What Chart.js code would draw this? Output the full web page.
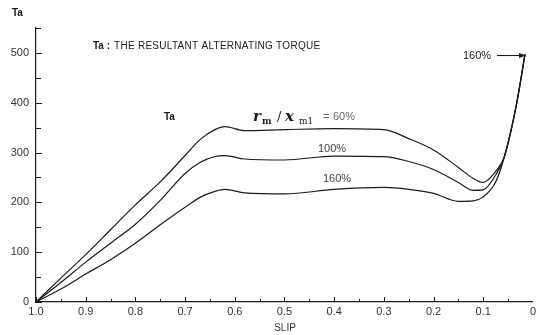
<!DOCTYPE html>
<html>
<head>
<meta charset="utf-8">
<script src="https://cdn.jsdelivr.net/npm/chart.js@4.4.1/dist/chart.umd.min.js"></script>
<style>
html,body{margin:0;padding:0;background:#fff;}
#wrap{width:539px;height:335px;position:relative;}
</style>
</head>
<body>
<div id="wrap"><canvas id="c" width="539" height="335"></canvas></div>
<script>
// slip values (x axis, reversed: 1.0 at left, 0 at right)
const slip = [1.0, 0.95, 0.9, 0.85, 0.8, 0.75, 0.7, 0.67, 0.64, 0.62, 0.58, 0.5, 0.4, 0.3, 0.25, 0.2, 0.15, 0.12, 0.1, 0.075, 0.058, 0.034, 0.016];
// Ta for r_m/x_m1 = 60%
const ta60  = [0, 48, 95, 145, 195, 241, 294, 326, 346, 352, 344, 346, 348, 346, 328, 305, 270, 248, 240, 262, 290, 392, 497];
// Ta for r_m/x_m1 = 100%
const ta100 = [0, 39, 80, 118, 156, 204, 258, 280, 292, 294, 287, 285, 293, 292, 282, 266, 240, 224, 225, 255, 290, 392, 497];
// Ta for r_m/x_m1 = 160%
const ta160 = [0, 26, 56, 85, 118, 155, 190, 210, 222, 226, 219, 217, 226, 230, 226, 218, 202, 203, 211, 241, 290, 392, 497];
const yTicks = [0, 100, 200, 300, 400, 500];
const xTicks = [1.0, 0.9, 0.8, 0.7, 0.6, 0.5, 0.4, 0.3, 0.2, 0.1, 0];

function pts(ys){ return slip.map((s,i)=>({x:s, y:ys[i]})); }

const ink = '#1a1a1a';
const mkDs = (label, ys) => ({
  label, data: pts(ys), borderColor: ink, borderWidth: 1.2,
  pointRadius: 0, fill: false, cubicInterpolationMode: 'monotone'
});

const tickPlugin = {
  id: 'inwardTicks',
  afterDraw(chart){
    const ctx = chart.ctx, x = chart.scales.x, y = chart.scales.y;
    ctx.save();
    ctx.strokeStyle = ink; ctx.lineWidth = 1;
    for (let v = 0; v <= 550; v += 50) {
      const py = Math.round(y.getPixelForValue(v)) + 0.5;
      const len = (v % 100 === 0) ? 6 : 5;
      ctx.beginPath(); ctx.moveTo(x.left, py); ctx.lineTo(x.left + len, py); ctx.stroke();
    }
    for (let k = 1; k <= 20; k++) {
      const v = k * 0.05;
      const px = Math.round(x.getPixelForValue(v)) + 0.5;
      const len = (k % 2 === 0) ? 5 : 3;
      ctx.beginPath(); ctx.moveTo(px, y.bottom); ctx.lineTo(px, y.bottom - len); ctx.stroke();
    }
    ctx.restore();
  }
};

const textPlugin = {
  id: 'annot',
  afterDraw(chart){
    const ctx = chart.ctx, xs = chart.scales.x;
    ctx.save();
    ctx.fillStyle = ink; ctx.strokeStyle = ink;
    ctx.textBaseline = 'middle'; ctx.textAlign = 'left';
    // axis title Ta
    ctx.font = 'bold 10px "Liberation Sans"';
    ctx.fillText('Ta', 12, 13);
    // title
    ctx.fillText('Ta :', 93, 46);
    ctx.font = '10px "Liberation Sans"';
    const t = 'THE RESULTANT ALTERNATING TORQUE';
    const w0 = ctx.measureText(t).width;
    const ls = (206 - w0) / (t.length - 1);
    ctx.letterSpacing = ls.toFixed(2) + 'px';
    ctx.fillText(t, 114, 46);
    ctx.letterSpacing = '0px';
    // curve label Ta
    ctx.font = 'bold 10px "Liberation Sans"';
    ctx.fillText('Ta', 164, 117);
    // r_m / x_m1 = 60%
    const yb = 121;
    ctx.textBaseline = 'alphabetic';
    ctx.font = 'bold italic 15px "DejaVu Serif"';
    ctx.fillText('r', 253, yb);
    ctx.font = 'bold 9px "DejaVu Serif"';
    ctx.fillText('m', 262, yb + 3);
    ctx.font = '13px "DejaVu Serif"';
    ctx.fillText('/', 277, yb);
    ctx.font = 'bold italic 15px "DejaVu Serif"';
    ctx.fillText('x', 285, yb);
    ctx.font = '9px "DejaVu Serif"';
    ctx.fillText('m1', 299, yb + 3);
    ctx.fillStyle = '#666';
    ctx.font = '11px "Liberation Sans"';
    ctx.fillText('=', 323, yb - 1);
    ctx.fillText('60%', 333, yb - 1);
    ctx.fillStyle = ink;
    ctx.textBaseline = 'middle';
    ctx.font = '11px "Liberation Sans"';
    ctx.fillStyle = '#444';
    ctx.fillText('100%', 318, 149);
    ctx.fillText('160%', 323, 179);
    ctx.fillStyle = ink;
    ctx.fillText('160%', 463, 56);
    // arrow to the end of the curve
    const ex = xs.getPixelForValue(slip[slip.length-1]);
    const ey = 55.5;
    ctx.lineWidth = 1.1;
    ctx.beginPath(); ctx.moveTo(497, ey); ctx.lineTo(ex - 1, ey); ctx.stroke();
    ctx.beginPath(); ctx.moveTo(ex + 1, ey); ctx.lineTo(ex - 6, ey - 2.5); ctx.lineTo(ex - 6, ey + 2.5); ctx.closePath(); ctx.fill();
    // x title
    ctx.font = '10px "Liberation Sans"';
    ctx.fillStyle = '#333';
    ctx.textAlign = 'center';
    ctx.fillText('SLIP', 285, 328);
    ctx.restore();
  }
};

new Chart(document.getElementById('c'), {
  type: 'line',
  data: { datasets: [mkDs('60%', ta60), mkDs('100%', ta100), mkDs('160%', ta160)] },
  options: {
    responsive: false, animation: false, devicePixelRatio: 1,
    layout: { padding: { left: 0, right: 2, top: 28, bottom: 0 } },
    plugins: { legend: { display: false }, tooltip: { enabled: false } },
    scales: {
      x: {
        type: 'linear', reverse: true, min: 0, max: 1.0,
        grid: { display: false, drawTicks: false },
        border: { display: true, color: ink, width: 1.2 },
        afterBuildTicks(s){ s.ticks = xTicks.map(v => ({ value: v })); },
        afterFit(s){ s.height = 33; },
        ticks: {
          color: '#333', font: { family: 'Liberation Sans', size: 11 }, padding: 3,
          maxRotation: 0, autoSkip: false,
          callback: v => v === 0 ? '0' : Number(v).toFixed(1)
        }
      },
      y: {
        type: 'linear', min: 0, max: 550,
        grid: { display: false, drawTicks: false },
        border: { display: true, color: ink, width: 1.2 },
        afterBuildTicks(s){ s.ticks = yTicks.map(v => ({ value: v })); },
        afterFit(s){ s.width = 36; },
        ticks: { color: '#333', font: { family: 'Liberation Sans', size: 11 }, padding: 7 }
      }
    }
  },
  plugins: [tickPlugin, textPlugin]
});
</script>
</body>
</html>
